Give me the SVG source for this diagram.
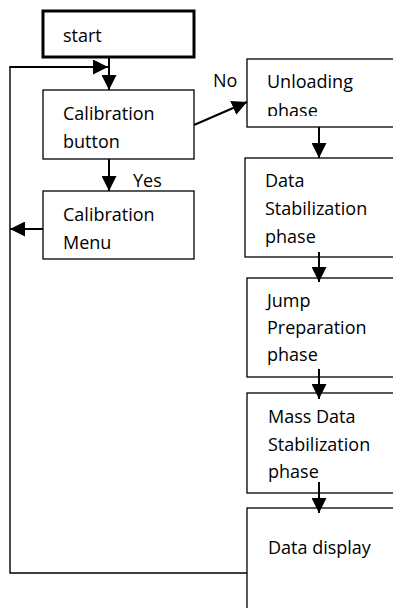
<svg xmlns="http://www.w3.org/2000/svg" width="393" height="608" viewBox="0 0 393 608">
<style>
.box{fill:#fff;stroke:#000;stroke-width:1.3}
.start{fill:#fff;stroke:#000;stroke-width:3}
.t{font-family:"Open Sans","Liberation Sans",sans-serif;font-size:18px;fill:#000}
.c{fill:none;stroke:#000;stroke-width:2}
.thin{fill:none;stroke:#000;stroke-width:1.4}
</style>
<defs>
<marker id="ah" markerUnits="userSpaceOnUse" markerWidth="15" markerHeight="15" refX="15" refY="7.5" orient="auto" viewBox="0 0 15 15">
<path d="M0,0 L15,7.5 L0,15 z" fill="#000"/>
</marker>
<clipPath id="clipU"><rect x="248" y="59" width="150" height="57"/></clipPath>
</defs>
<g id="start"><rect class="start" x="43" y="11" width="151" height="46"/><text class="t" x="63" y="42">start</text></g>
<g id="calib-button"><rect class="box" x="43" y="90" width="151" height="69"/><text class="t" x="63" y="120">Calibration</text><text class="t" x="63" y="148">button</text></g>
<g id="calib-menu"><rect class="box" x="43" y="191" width="151" height="68"/><text class="t" x="63" y="221">Calibration</text><text class="t" x="63" y="249">Menu</text></g>
<g id="unloading"><rect class="box" x="247" y="59" width="200" height="68"/><g clip-path="url(#clipU)"><text class="t" x="267" y="88">Unloading</text><text class="t" x="267" y="117">phase</text></g></g>
<g id="data-stab"><rect class="box" x="245" y="158" width="200" height="99"/><text class="t" x="265" y="187">Data</text><text class="t" x="265" y="215">Stabilization</text><text class="t" x="265" y="243">phase</text></g>
<g id="jump"><rect class="box" x="247" y="278" width="200" height="99"/><text class="t" x="267" y="307">Jump</text><text class="t" x="267" y="334">Preparation</text><text class="t" x="267" y="361">phase</text></g>
<g id="mass"><rect class="box" x="247" y="393" width="200" height="100"/><text class="t" x="268" y="423">Mass Data</text><text class="t" x="268" y="451">Stabilization</text><text class="t" x="268" y="478">phase</text></g>
<g id="display"><rect class="box" x="247" y="508" width="200" height="120"/><text class="t" x="268" y="554">Data display</text></g>
<g id="connectors">
<line class="c" x1="109" y1="57" x2="109" y2="90" marker-end="url(#ah)"/>
<line class="c" x1="109" y1="159" x2="109" y2="191" marker-end="url(#ah)"/>
<line class="c" x1="194" y1="125" x2="247" y2="102" marker-end="url(#ah)"/>
<line class="c" x1="43" y1="229" x2="10" y2="229" marker-end="url(#ah)"/>
<line class="c" x1="319" y1="127" x2="319" y2="158" marker-end="url(#ah)"/>
<line class="c" x1="319" y1="252" x2="319" y2="282" marker-end="url(#ah)"/>
<line class="c" x1="319" y1="369" x2="319" y2="399" marker-end="url(#ah)"/>
<line class="c" x1="319" y1="482" x2="319" y2="513" marker-end="url(#ah)"/>
<polyline class="thin" points="247,573 10,573 10,67"/>
<line class="c" x1="9.3" y1="67" x2="108" y2="67" marker-end="url(#ah)"/>
<text class="t" x="133" y="187">Yes</text>
<text class="t" x="213" y="87">No</text>
</g>
</svg>
